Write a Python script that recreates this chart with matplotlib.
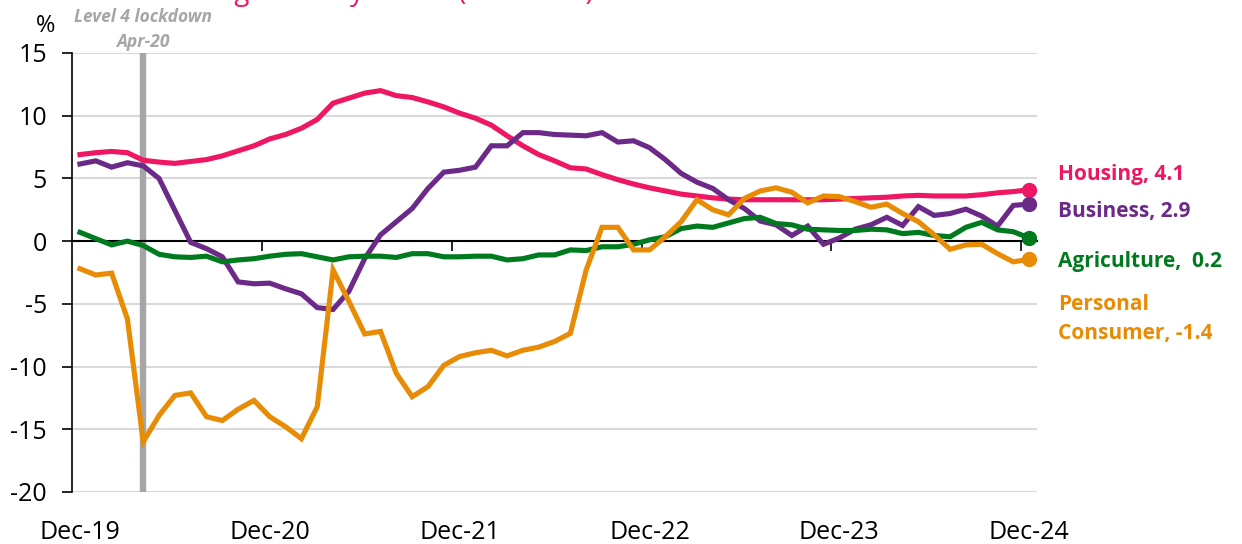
import numpy as np
import matplotlib
matplotlib.use('Agg')
import matplotlib.pyplot as plt
import matplotlib.transforms as mtransforms

plt.rcParams['font.family'] = ['Open Sans', 'DejaVu Sans']
plt.rcParams['axes.unicode_minus'] = False

# ======================================
# DATA (monthly, Dec-19 .. Dec-24, annual % change)
# ======================================
tick_labels = ['Dec-19', 'Dec-20', 'Dec-21', 'Dec-22', 'Dec-23', 'Dec-24']

housing = [6.9, 7.05, 7.15, 7.05, 6.45, 6.3, 6.2, 6.35, 6.5, 6.8, 7.2, 7.6,
           8.15, 8.5, 9.0, 9.7, 11.0, 11.4, 11.8, 12.0, 11.6, 11.45, 11.1, 10.7,
           10.2, 9.8, 9.25, 8.4, 7.6, 6.9, 6.4, 5.85, 5.75, 5.3, 4.9, 4.55,
           4.25, 4.0, 3.75, 3.6, 3.45, 3.35, 3.3, 3.3, 3.3, 3.3, 3.3, 3.3,
           3.35, 3.4, 3.45, 3.5, 3.6, 3.65, 3.6, 3.6, 3.6, 3.7, 3.85, 3.95, 4.1]

business = [6.15, 6.4, 5.9, 6.25, 6.0, 5.0, 2.45, -0.1, -0.6, -1.25, -3.25, -3.4,
            -3.35, -3.8, -4.2, -5.3, -5.45, -4.0, -1.4, 0.5, 1.55, 2.6, 4.2, 5.5,
            5.65, 5.9, 7.6, 7.6, 8.65, 8.65, 8.5, 8.45, 8.4, 8.65, 7.9, 8.0,
            7.45, 6.5, 5.4, 4.7, 4.2, 3.3, 2.6, 1.6, 1.3, 0.45, 1.2, -0.25,
            0.25, 0.95, 1.3, 1.9, 1.25, 2.75, 2.05, 2.2, 2.55, 2.0, 1.2, 2.85, 2.95]

agriculture = [0.7, 0.2, -0.3, 0.0, -0.35, -1.05, -1.25, -1.3, -1.2, -1.65, -1.5, -1.4,
               -1.2, -1.05, -1.0, -1.25, -1.5, -1.25, -1.2, -1.2, -1.3, -1.0, -1.0, -1.25,
               -1.25, -1.2, -1.2, -1.5, -1.4, -1.1, -1.1, -0.7, -0.75, -0.45, -0.45, -0.25,
               0.1, 0.35, 1.0, 1.2, 1.1, 1.45, 1.8, 1.9, 1.4, 1.3, 0.95, 0.9,
               0.85, 0.85, 0.95, 0.9, 0.6, 0.7, 0.45, 0.35, 1.1, 1.5, 0.9, 0.75, 0.25]

personal = [-2.2, -2.7, -2.55, -6.2, -16.0, -13.9, -12.3, -12.1, -14.0, -14.3, -13.4, -12.7,
            -14.0, -14.8, -15.75, -13.2, -2.3, -4.8, -7.4, -7.2, -10.55, -12.4, -11.6, -9.9,
            -9.2, -8.9, -8.7, -9.15, -8.7, -8.45, -8.0, -7.35, -2.3, 1.1, 1.1, -0.7,
            -0.7, 0.35, 1.55, 3.3, 2.5, 2.1, 3.4, 4.0, 4.25, 3.9, 3.05, 3.6,
            3.55, 3.15, 2.7, 2.95, 2.2, 1.55, 0.5, -0.65, -0.3, -0.25, -1.0, -1.65, -1.45]

series_names = ['Housing, 4.1', 'Business, 2.9', 'Agriculture,  0.2', 'Personal\nConsumer, -1.4']
colors = ['#ED1763', '#6B2A87', '#007A1E', '#E88B05']
label_y = [5.35, 2.4, -1.6, -6.2]

lockdown_idx = 4  # Apr-20

# ======================================
# FIGURE
# ======================================
fig = plt.figure(figsize=(12.42, 5.44), dpi=100)
ax = fig.add_axes([0.058, 0.0956, 0.777, 0.807])

x = np.arange(len(housing))

ax.vlines(lockdown_idx, -20, 15, color='#A6A6A6', linewidth=4.6, zorder=2)

for vals, col in zip([housing, business, agriculture, personal], colors):
    ax.plot(x, vals, color=col, linewidth=3.7, solid_joinstyle='miter', zorder=3)
    ax.plot(x[-1], vals[-1], 'o', color=col, markersize=10, zorder=4)

for name, col, ly in zip(series_names, colors, label_y):
    ax.text(61.8, ly, name, color=col, fontsize=15, fontweight='bold',
            va='center', ha='left', linespacing=1.5, clip_on=False)

ax.set_xlim(-0.5, 60.5)
ax.set_ylim(-20, 15)

# y axis
ax.set_yticks(range(-20, 16, 5))
ax.yaxis.grid(True, color='#D9D9D9', linewidth=1.5)
ax.set_axisbelow(True)
ax.tick_params(axis='y', direction='out', length=7, width=1.2, pad=11, labelsize=18)

# x axis crossing at zero, ticks between categories
ax.spines['top'].set_visible(False)
ax.spines['right'].set_visible(False)
ax.spines['left'].set_linewidth(1.2)
ax.spines['bottom'].set_position(('data', 0))
ax.spines['bottom'].set_linewidth(1.5)
ax.set_xticks(np.arange(11.5, 61, 12))
ax.set_xticklabels([])
ax.tick_params(axis='x', direction='out', length=7, width=1.2)

sec = ax.secondary_xaxis(0)
sec.set_xticks(np.arange(0, 61, 12))
sec.set_xticklabels(tick_labels, fontsize=18)
sec.tick_params(length=0, pad=20)
sec.spines['bottom'].set_visible(False)

# annotations
trans = mtransforms.blended_transform_factory(ax.transData, ax.transAxes)
ax.text(lockdown_idx, 1.082, 'Level 4 lockdown', transform=trans, ha='center', va='center',
        color='#A6A6A6', fontsize=12.5, fontweight='bold', fontstyle='italic')
ax.text(lockdown_idx, 1.025, 'Apr-20', transform=trans, ha='center', va='center',
        color='#A6A6A6', fontsize=12.5, fontweight='bold', fontstyle='italic')
ax.text(-0.027, 1.062, '%', transform=ax.transAxes, ha='center', va='center', fontsize=17)

# title (cut off at top of the frame in the reference)
fig.text(0.12, 1.0, 'Credit growth by sector (annual %)', color='#ED1763', fontsize=20,
         ha='left', va='baseline')

fig.savefig('out.png', dpi=100)
